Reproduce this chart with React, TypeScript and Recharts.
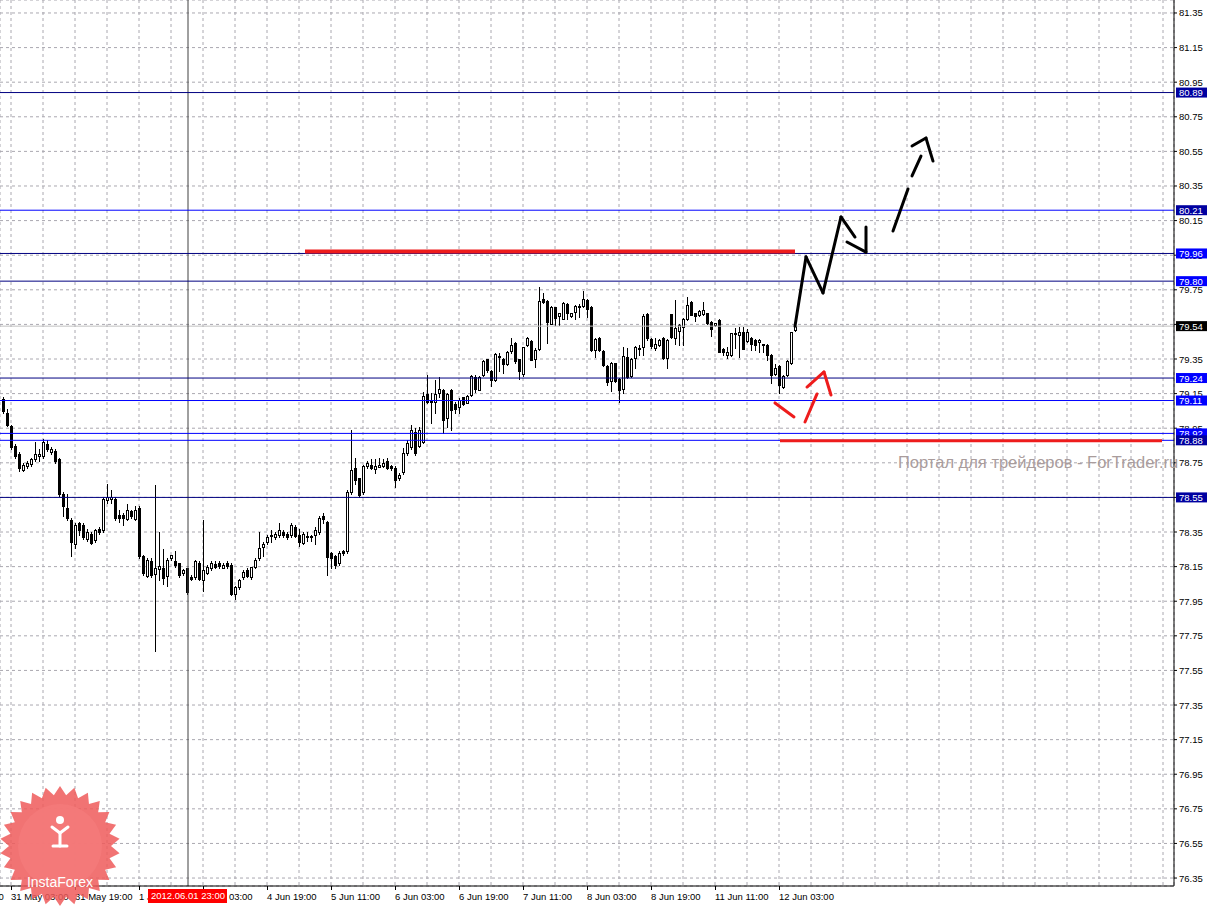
import React from "react";
import {
  ComposedChart,
  Bar,
  XAxis,
  YAxis,
  CartesianGrid,
  ReferenceLine,
} from "recharts";

// H1 candles, 31 May 01:00 .. 12 Jun 07:00 (index 0..198)
const OPEN = [
  79.12, 79.04, 78.96, 78.85, 78.8, 78.71, 78.73, 78.74, 78.77, 78.79,
  78.79, 78.86, 78.81, 78.82, 78.77, 78.57, 78.49, 78.42, 78.28, 78.4,
  78.39, 78.31, 78.34, 78.3, 78.37, 78.36, 78.53, 78.54, 78.54, 78.45,
  78.45, 78.43, 78.47, 78.43, 78.49, 78.21, 78.1, 78.18, 78.105, 78.14,
  78.14, 78.1, 78.198, 78.18, 78.17, 78.11, 78.14, 78.09, 78.09, 78.17,
  78.07, 78.115, 78.14, 78.165, 78.17, 78.145, 78.17, 78.16, 77.99, 78.03,
  78.09, 78.13, 78.09, 78.15, 78.2, 78.265, 78.29, 78.326, 78.32, 78.33,
  78.35, 78.34, 78.33, 78.38, 78.33, 78.29, 78.325, 78.326, 78.33, 78.35,
  78.44, 78.41, 78.23, 78.21, 78.17, 78.24, 78.24, 78.58, 78.72, 78.66,
  78.58, 78.73, 78.74, 78.71, 78.73, 78.73, 78.76, 78.73, 78.72, 78.66,
  78.697, 78.807, 78.841, 78.928, 78.847, 78.87, 79.148, 79.108, 79.104, 79.152,
  79.171, 79.007, 79.171, 79.09, 79.075, 79.129, 79.098, 79.142, 79.248, 79.175,
  79.258, 79.348, 79.283, 79.229, 79.36, 79.35, 79.321, 79.393, 79.441, 79.348,
  79.264, 79.431, 79.456, 79.348, 79.412, 79.695, 79.688, 79.557, 79.649, 79.599,
  79.585, 79.668, 79.595, 79.624, 79.649, 79.653, 79.691, 79.653, 79.402, 79.47,
  79.397, 79.31, 79.223, 79.325, 79.235, 79.181, 79.364, 79.254, 79.358, 79.416,
  79.422, 79.608, 79.466, 79.412, 79.431, 79.47, 79.354, 79.608, 79.474, 79.512,
  79.531, 79.581, 79.682, 79.614, 79.605, 79.608, 79.614, 79.566, 79.543, 79.576,
  79.408, 79.373, 79.373, 79.493, 79.489, 79.508, 79.454, 79.474, 79.46, 79.447,
  79.435, 79.431, 79.373, 79.262, 79.312, 79.19, 79.258, 79.325, 79.518,
];
const HIGH = [
  79.13, 79.06, 78.97, 78.86, 78.81, 78.75, 78.76, 78.78, 78.87, 78.83,
  78.89, 78.88, 78.84, 78.83, 78.78, 78.58, 78.57, 78.43, 78.4, 78.41,
  78.4, 78.37, 78.35, 78.37, 78.38, 78.55, 78.63, 78.59, 78.55, 78.48,
  78.46, 78.51, 78.48, 78.5, 78.5, 78.22, 78.2, 78.2, 78.62, 78.35,
  78.25, 78.2, 78.22, 78.24, 78.17, 78.135, 78.14, 78.1, 78.19, 78.18,
  78.42, 78.16, 78.18, 78.18, 78.18, 78.17, 78.18, 78.17, 78.04, 78.08,
  78.13, 78.14, 78.15, 78.2, 78.35, 78.29, 78.33, 78.36, 78.35, 78.4,
  78.36, 78.35, 78.4, 78.39, 78.37, 78.35, 78.35, 78.33, 78.38, 78.44,
  78.46, 78.415, 78.235, 78.215, 78.24, 78.245, 78.59, 78.94, 78.78, 78.665,
  78.74, 78.76, 78.77, 78.77, 78.78, 78.77, 78.78, 78.74, 78.73, 78.69,
  78.836, 78.882, 78.969, 78.951, 78.957, 79.159, 79.258, 79.152, 79.229, 79.248,
  79.175, 79.152, 79.175, 79.104, 79.123, 79.133, 79.142, 79.258, 79.256, 79.252,
  79.345, 79.352, 79.287, 79.383, 79.383, 79.354, 79.398, 79.47, 79.447, 79.352,
  79.422, 79.479, 79.46, 79.412, 79.768, 79.73, 79.691, 79.657, 79.653, 79.618,
  79.682, 79.672, 79.618, 79.662, 79.668, 79.745, 79.695, 79.657, 79.47, 79.476,
  79.402, 79.316, 79.331, 79.329, 79.238, 79.422, 79.412, 79.354, 79.427, 79.431,
  79.608, 79.614, 79.474, 79.47, 79.466, 79.479, 79.466, 79.612, 79.691, 79.551,
  79.585, 79.711, 79.686, 79.618, 79.632, 79.682, 79.618, 79.57, 79.56, 79.58,
  79.412, 79.422, 79.502, 79.528, 79.537, 79.537, 79.524, 79.477, 79.464, 79.464,
  79.439, 79.435, 79.377, 79.319, 79.316, 79.258, 79.343, 79.508, 79.581,
];
const LOW = [
  79.04, 78.96, 78.83, 78.78, 78.7, 78.7, 78.72, 78.73, 78.76, 78.76,
  78.78, 78.82, 78.8, 78.75, 78.56, 78.44, 78.42, 78.21, 78.26, 78.33,
  78.31, 78.3, 78.28, 78.29, 78.34, 78.35, 78.52, 78.52, 78.42, 78.41,
  78.39, 78.42, 78.43, 78.42, 78.2, 78.1, 78.09, 78.09, 77.66, 78.07,
  78.05, 78.04, 78.19, 78.15, 78.09, 78.1, 77.99, 78.07, 78.08, 78.07,
  78.01, 78.11, 78.13, 78.14, 78.14, 78.14, 78.14, 77.985, 77.96, 78.02,
  78.08, 78.09, 78.08, 78.14, 78.19, 78.21, 78.28, 78.29, 78.31, 78.32,
  78.32, 78.31, 78.32, 78.32, 78.27, 78.28, 78.3, 78.3, 78.28, 78.34,
  78.4, 78.1, 78.14, 78.14, 78.16, 78.22, 78.23, 78.57, 78.63, 78.55,
  78.57, 78.72, 78.715, 78.69, 78.725, 78.725, 78.715, 78.71, 78.61, 78.65,
  78.685, 78.795, 78.83, 78.795, 78.841, 78.864, 79.098, 78.979, 79.036, 79.133,
  78.921, 78.959, 78.94, 79.036, 79.036, 79.084, 79.094, 79.137, 79.162, 79.171,
  79.252, 79.277, 79.194, 79.225, 79.283, 79.268, 79.316, 79.387, 79.329, 79.233,
  79.252, 79.425, 79.345, 79.306, 79.402, 79.672, 79.441, 79.551, 79.547, 79.547,
  79.58, 79.58, 79.591, 79.58, 79.591, 79.649, 79.595, 79.398, 79.364, 79.398,
  79.312, 79.2, 79.165, 79.215, 79.104, 79.152, 79.242, 79.248, 79.296, 79.373,
  79.373, 79.46, 79.412, 79.402, 79.427, 79.35, 79.296, 79.47, 79.435, 79.431,
  79.431, 79.578, 79.605, 79.57, 79.601, 79.605, 79.553, 79.485, 79.539, 79.389,
  79.373, 79.354, 79.369, 79.412, 79.364, 79.408, 79.45, 79.402, 79.402, 79.393,
  79.393, 79.344, 79.21, 79.258, 79.152, 79.185, 79.254, 79.321, 79.514,
];
const CLOSE = [
  79.05, 78.97, 78.84, 78.79, 78.72, 78.74, 78.75, 78.77, 78.8, 78.8,
  78.87, 78.83, 78.83, 78.76, 78.57, 78.5, 78.43, 78.29, 78.39, 78.36,
  78.32, 78.35, 78.29, 78.36, 78.35, 78.54, 78.55, 78.55, 78.43, 78.43,
  78.43, 78.48, 78.44, 78.48, 78.21, 78.11, 78.19, 78.1, 78.14, 78.155,
  78.08, 78.19, 78.215, 78.155, 78.1, 78.13, 78.0, 78.08, 78.18, 78.08,
  78.13, 78.15, 78.17, 78.15, 78.15, 78.16, 78.15, 77.99, 78.03, 78.07,
  78.12, 78.095, 78.145, 78.19, 78.255, 78.28, 78.32, 78.33, 78.34, 78.36,
  78.33, 78.32, 78.39, 78.33, 78.29, 78.34, 78.328, 78.319, 78.36, 78.43,
  78.42, 78.21, 78.2, 78.16, 78.23, 78.23, 78.58, 78.71, 78.65, 78.56,
  78.73, 78.75, 78.72, 78.73, 78.74, 78.75, 78.72, 78.72, 78.65, 78.68,
  78.807, 78.864, 78.94, 78.807, 78.94, 79.136, 79.104, 79.102, 79.148, 79.175,
  78.998, 79.148, 79.056, 79.059, 79.113, 79.09, 79.137, 79.254, 79.181, 79.248,
  79.339, 79.283, 79.233, 79.377, 79.368, 79.321, 79.393, 79.429, 79.335, 79.277,
  79.418, 79.47, 79.348, 79.402, 79.688, 79.676, 79.566, 79.653, 79.585, 79.614,
  79.676, 79.614, 79.614, 79.657, 79.657, 79.695, 79.637, 79.402, 79.464, 79.402,
  79.316, 79.219, 79.325, 79.219, 79.171, 79.37, 79.248, 79.35, 79.422, 79.412,
  79.601, 79.47, 79.427, 79.435, 79.46, 79.354, 79.46, 79.474, 79.531, 79.547,
  79.58, 79.662, 79.608, 79.595, 79.628, 79.633, 79.556, 79.528, 79.556, 79.393,
  79.389, 79.389, 79.499, 79.499, 79.508, 79.412, 79.508, 79.441, 79.431, 79.46,
  79.429, 79.373, 79.258, 79.296, 79.2, 79.254, 79.339, 79.504, 79.543,
];

// time axis labels (bar index -> text)
const TIME_LABELS: Record<number, string> = {
  [-14]: "30 May 11:00",
  2: "31 May 03:00",
  18: "31 May 19:00",
  34: "1 Jun 11:00",
  50: "4 Jun 03:00",
  66: "4 Jun 19:00",
  82: "5 Jun 11:00",
  98: "6 Jun 03:00",
  114: "6 Jun 19:00",
  130: "7 Jun 11:00",
  146: "8 Jun 03:00",
  162: "8 Jun 19:00",
  178: "11 Jun 11:00",
  194: "12 Jun 03:00",
};
const GRID_X = Array.from({ length: 37 }, (_, k) => 2 + 8 * k);
const PRICE_TICKS = Array.from({ length: 26 }, (_, k) =>
  Number((81.35 - 0.2 * k).toFixed(2))
);

// horizontal levels drawn on the chart
const LEVELS = [
  { v: 80.89, line: "#000080", box: "#0000a0" },
  { v: 80.21, line: "#0000ff", box: "#0000a0" },
  { v: 79.96, line: "#000080", box: "#0000ff" },
  { v: 79.8, line: "#000080", box: "#0000ff" },
  { v: 79.24, line: "#000080", box: "#0000ff" },
  { v: 79.11, line: "#0000ff", box: "#0000ff" },
  { v: 78.92, line: "#0000ff", box: "#0000ff" },
  { v: 78.88, line: "#0000ff", box: "#0000a0" },
  { v: 78.55, line: "#000080", box: "#0000a0" },
];
const BID = 79.54;
const CROSS_X = 46.25;
const LABEL_TICKS = [BID, ...LEVELS.map((l) => l.v)];

const RED_LEVELS = [
  { v: 79.971, from: 75.5, to: 198, w: 4 },
  { v: 78.878, from: 194.25, to: 289.75, w: 3 },
];

// hand-drawn forecast arrows [bar index, price]
const BLACK_ARROW = [
  [[198, 79.54], [200.75, 79.94], [205, 79.732], [209.5, 80.171], [213, 80.055]],
  [[211, 80.026], [215.75, 79.968], [215.75, 80.113]],
];
const BLACK_DASH = [
  [[222.5, 80.09], [226.25, 80.333]],
  [[227.25, 80.408], [229.5, 80.523]],
  [[227.25, 80.581], [230.75, 80.627], [232.5, 80.494]],
];
const RED_ARROW = [
  [[193, 79.096], [197.75, 79.015]],
  [[200.5, 78.986], [203.5, 79.148]],
  [[201, 79.188], [205.25, 79.275], [207, 79.142]],
];

const candles = OPEN.map((o, i) => ({
  i,
  o,
  h: HIGH[i],
  l: LOW[i],
  c: CLOSE[i],
  range: [LOW[i], HIGH[i]],
}));

const FONT = "'Liberation Sans', Arial, sans-serif";

function Candle(props: any) {
  const { x, y, width, height, payload } = props;
  if (!payload) return null;
  const { o, h, l, c } = payload;
  const top = Math.min(y, y + height);
  const span = Math.abs(height);
  const k = h - l > 0 ? span / (h - l) : 0;
  const py = (v: number) => top + (h - v) * k;
  const cx = Math.round(x + width / 2);
  const yo = py(o);
  const yc = py(c);
  const bTop = Math.round(Math.min(yo, yc));
  const bH = Math.max(1, Math.round(Math.abs(yo - yc)));
  const up = c >= o;
  return (
    <g shapeRendering="crispEdges">
      <line x1={cx + 0.5} x2={cx + 0.5} y1={Math.round(top)} y2={Math.round(top + span) + 1} stroke="#000" strokeWidth={1} />
      {up ? (
        <rect x={cx - 0.5} y={bTop + 0.5} width={2} height={bH} fill="#fff" stroke="#000" strokeWidth={1} />
      ) : (
        <rect x={cx - 1} y={bTop} width={3} height={bH + 1} fill="#000" />
      )}
    </g>
  );
}

function TimeTick(props: any) {
  const { x, y, payload } = props;
  const v = payload.value;
  const out: any[] = [];
  const add = (key: string, tx: number, text: string) => {
    out.push(
      <g key={key}>
        <line x1={tx + 0.5} x2={tx + 0.5} y1={y - 4} y2={y} stroke="#000" />
        <text x={tx} y={y + 10} fontSize={9.5} fontFamily={FONT} fill="#000">
          {text}
        </text>
      </g>
    );
  };
  if (TIME_LABELS[v]) add("a", x, TIME_LABELS[v]);
  if (v === 2) add("b", x - 64, TIME_LABELS[-14]);
  return <g>{out}</g>;
}

function PriceTick(props: any) {
  const { x, y, payload } = props;
  return (
    <text x={x} y={y + 3.5} fontSize={9.5} fontFamily={FONT} fill="#000" textAnchor="start">
      {payload.value.toFixed(2)}
    </text>
  );
}

// boxes on the price scale for each level (drawn by a second, 1px-wide axis)
function LevelTick(props: any) {
  const { x, y, payload } = props;
  const v = payload.value;
  const lv = LEVELS.find((l) => Math.abs(l.v - v) < 1e-6);
  const color = lv ? lv.box : "#000";
  const bx = x - 39;
  return (
    <g>
      <rect x={bx} y={y - 5} width={31} height={10} fill={color} />
      <text x={bx + 3} y={y + 3.5} fontSize={9.5} fontFamily={FONT} fill="#fff">
        {v.toFixed(2)}
      </text>
    </g>
  );
}

function segs(lines: number[][][]) {
  const out: { a: number[]; b: number[] }[] = [];
  lines.forEach((pts) => {
    for (let k = 0; k < pts.length - 1; k++) out.push({ a: pts[k], b: pts[k + 1] });
  });
  return out;
}

function Logo() {
  const n = 26;
  const pts: string[] = [];
  for (let k = 0; k < n * 2; k++) {
    const r = k % 2 === 0 ? 60 : 51;
    const a = (Math.PI * k) / n;
    pts.push(`${60 + r * Math.sin(a)},${60 - r * Math.cos(a)}`);
  }
  return (
    <svg width={121} height={121} style={{ position: "absolute", left: 0, top: 786 }}>
      <polygon points={pts.join(" ")} fill="#ef5a5a" fillOpacity={0.85} />
      <circle cx={60} cy={60} r={42} fill="#f47a7a" fillOpacity={0.9} />
      <g fill="none" stroke="#fff" strokeWidth={3} strokeLinecap="round">
        <circle cx={60} cy={34} r={4} fill="#fff" stroke="none" />
        <path d="M52 41 L60 47 L68 41" />
        <path d="M60 47 L60 60" />
        <path d="M53 60 L67 60" />
      </g>
      <text x={60} y={101} textAnchor="middle" fontSize={14} fontFamily={FONT} fill="#fff">
        InstaForex
      </text>
    </svg>
  );
}

export default function App() {
  return (
    <div style={{ position: "fixed", left: 0, top: 0, width: 1215, height: 906, background: "#fff", overflow: "hidden" }}>
      <ComposedChart
        width={1216}
        height={906}
        data={candles}
        margin={{ top: 0, right: 0, left: 0, bottom: 0 }}
      >
        <CartesianGrid stroke="#aaa8b0" strokeDasharray="3 3" />
        <XAxis
          dataKey="i"
          type="number"
          domain={[-0.75, 292.75]}
          allowDataOverflow
          ticks={GRID_X}
          interval={0}
          height={20}
          tickLine={false}
          tickSize={4}
          tickMargin={0}
          axisLine={{ stroke: "#000" }}
          tick={<TimeTick />}
        />
        <YAxis
          orientation="right"
          type="number"
          domain={[76.304, 81.425]}
          allowDataOverflow
          ticks={PRICE_TICKS}
          interval={0}
          width={41}
          tickSize={3}
          tickMargin={2}
          axisLine={{ stroke: "#000" }}
          tickLine={{ stroke: "#000" }}
          tick={<PriceTick />}
        />
        <YAxis
          yAxisId="levels"
          orientation="right"
          type="number"
          domain={[76.304, 81.425]}
          allowDataOverflow
          ticks={LABEL_TICKS}
          interval={0}
          width={1}
          tickSize={0}
          tickMargin={0}
          axisLine={false}
          tickLine={false}
          tick={<LevelTick />}
        />
        <ReferenceLine y={BID} stroke="#c0c0c0" />
        <ReferenceLine x={CROSS_X} stroke="#404040" />
        {LEVELS.map((lv) => (
          <ReferenceLine key={lv.v} y={lv.v} stroke={lv.line} />
        ))}
        {RED_LEVELS.map((r) => (
          <ReferenceLine
            key={r.v}
            segment={[
              { x: r.from, y: r.v },
              { x: r.to, y: r.v },
            ]}
            stroke="#ee1c1c"
            strokeWidth={r.w}
          />
        ))}
        <Bar
          dataKey="range"
          barSize={4}
          shape={<Candle />}
          isAnimationActive={false}
        />
        {segs(BLACK_ARROW).map((s, k) => (
          <ReferenceLine
            key={"ba" + k}
            segment={[
              { x: s.a[0], y: s.a[1] },
              { x: s.b[0], y: s.b[1] },
            ]}
            stroke="#000"
            strokeWidth={3}
            strokeLinecap="round"
          />
        ))}
        {segs(BLACK_DASH).map((s, k) => (
          <ReferenceLine
            key={"bd" + k}
            segment={[
              { x: s.a[0], y: s.a[1] },
              { x: s.b[0], y: s.b[1] },
            ]}
            stroke="#000"
            strokeWidth={3}
            strokeLinecap="round"
          />
        ))}
        {segs(RED_ARROW).map((s, k) => (
          <ReferenceLine
            key={"ra" + k}
            segment={[
              { x: s.a[0], y: s.a[1] },
              { x: s.b[0], y: s.b[1] },
            ]}
            stroke="#ee1c1c"
            strokeWidth={3}
            strokeLinecap="round"
          />
        ))}
      </ComposedChart>
      <div
        style={{
          position: "absolute",
          left: 898,
          top: 453,
          fontFamily: FONT,
          fontSize: 16.5,
          color: "#a99c9c",
          whiteSpace: "nowrap",
          pointerEvents: "none",
        }}
      >
        Портал для трейдеров - ForTrader.ru
      </div>
      <div
        style={{
          position: "absolute",
          left: 148,
          top: 889,
          width: 79,
          height: 14,
          background: "#ff0000",
          color: "#fff",
          fontFamily: FONT,
          fontSize: 9.5,
          lineHeight: "14px",
          paddingLeft: 3,
          boxSizing: "border-box",
        }}
      >
        2012.06.01 23:00
      </div>
      <Logo />
    </div>
  );
}
